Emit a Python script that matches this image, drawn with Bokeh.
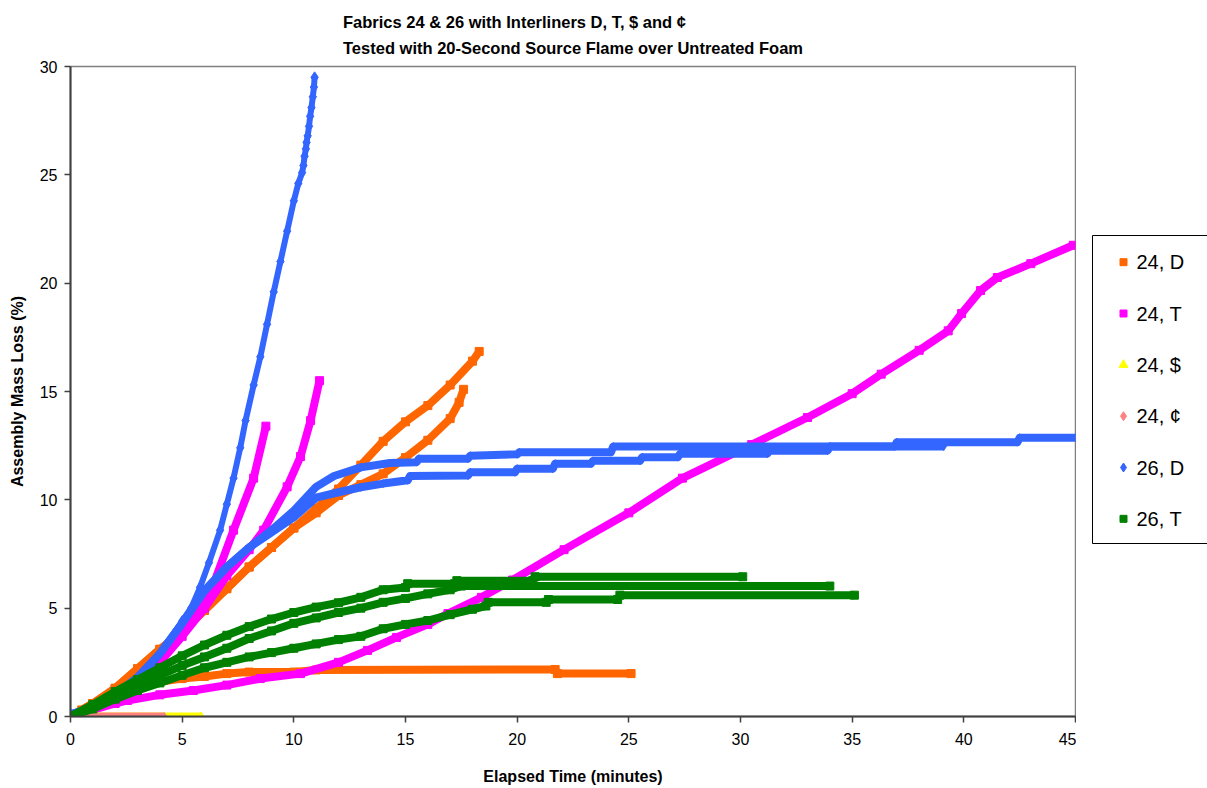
from bokeh.plotting import figure
from bokeh.models import FixedTicker, Title, Range1d, ColumnDataSource
from bokeh.layouts import row
from bokeh.core.properties import value
from bokeh.embed import file_html
from bokeh.resources import INLINE

# ---------------- data (elapsed time in minutes, assembly mass loss in %) ----------------
# 24, D  (three runs)
d24_1_t = [0, 0.5, 1, 2, 3, 4, 5, 6, 7, 8, 10, 11, 21.7, 21.8, 25.1]
d24_1_v = [0, 0.3, 0.6, 1.1, 1.4, 1.6, 1.75, 1.85, 1.98, 2.05, 2.05, 2.15, 2.17, 1.98, 1.98]
d24_2_t = [0, 1, 2, 3, 4, 5, 6, 7, 8, 9, 10, 11, 12, 13, 14, 15, 16, 17, 18, 18.3]
d24_2_v = [0, 0.6, 1.3, 2.2, 3.1, 3.9, 4.9, 5.9, 6.9, 7.8, 8.7, 9.6, 10.5, 11.6, 12.7, 13.6, 14.35, 15.3, 16.4, 16.85]
d24_3_t = [0, 1, 2, 3, 4, 5, 6, 7, 8, 9, 10, 11, 12, 13, 14, 15, 16, 17, 17.4, 17.6]
d24_3_v = [0, 0.6, 1.3, 2.2, 3.1, 3.9, 4.9, 5.9, 6.9, 7.8, 8.7, 9.4, 10.2, 10.7, 11.2, 11.95, 12.75, 13.75, 14.5, 15.1]

# 24, T  (three runs)
t24_1_t = [0, 1, 2, 2.55, 4, 5.5, 7, 8.5, 10.3, 12, 13.3, 14.6, 16, 16.9, 18.4, 19.8, 22.1, 25,
           27.4, 30.5, 33, 35, 36.3, 38, 39.3, 39.9, 40.75, 41.5, 43, 44.9]
t24_1_v = [0, 0.3, 0.6, 0.74, 1.0, 1.2, 1.45, 1.75, 1.98, 2.5, 3.05, 3.65, 4.25, 4.75, 5.5, 6.3, 7.7, 9.4,
           11.0, 12.55, 13.8, 14.9, 15.8, 16.9, 17.8, 18.6, 19.66, 20.26, 20.9, 21.75]
t24_2_t = [0, 1, 2, 3, 4, 5, 6, 6.4, 7.3, 8.2, 8.75]
t24_2_v = [0, 0.3, 0.8, 1.6, 2.6, 3.9, 5.3, 6.1, 8.6, 11.0, 13.4]
t24_3_t = [0, 1, 2, 3, 4, 5, 6, 7, 8, 8.65, 9.7, 10.3, 10.75, 11.15]
t24_3_v = [0, 0.3, 0.8, 1.5, 2.5, 3.7, 5.0, 6.5, 7.7, 8.6, 10.6, 12.0, 13.66, 15.5]

# 24, $
s24_t = [0, 5.85]
s24_v = [0, 0]

# 24, ¢
c24_t = [0, 4.2]
c24_v = [0, 0]

# 26, D  (three runs)
d26_1_t = [0, 1, 2, 3, 4, 5, 5.4, 5.8, 6.2, 6.7, 7.0, 7.3, 7.6, 7.84, 8.2, 8.5, 8.8, 9.1, 9.4, 9.7,
           10.0, 10.2, 10.37, 10.43, 10.48, 10.54, 10.57, 10.62, 10.68, 10.73, 10.79, 10.85, 10.9, 10.93]
d26_1_v = [0.1, 0.4, 1.0, 1.8, 2.9, 4.4, 5.0, 5.96, 7.1, 8.6, 9.8, 11.0, 12.4, 13.66, 15.3, 16.6, 18.1, 19.6, 21.0, 22.4,
           23.8, 24.6, 25.1, 25.43, 25.86, 26.2, 26.5, 26.8, 27.24, 27.7, 28.1, 28.6, 29.05, 29.5]
d26_2_t = [0, 1, 2, 3, 4, 5, 6, 7, 8, 9, 10, 11, 11.8, 13, 14.3, 15.5, 15.6, 17.8, 17.9, 20.0, 20.1,
           24.2, 24.3, 36.9, 37.0, 42.4, 42.5, 45]
d26_2_v = [0.1, 0.4, 1.0, 1.8, 2.9, 4.3, 5.8, 6.9, 7.8, 8.6, 9.5, 10.6, 11.1, 11.5, 11.7, 11.74, 11.9, 11.9, 12.04, 12.1, 12.2,
           12.2, 12.46, 12.46, 12.66, 12.66, 12.87, 12.87]
d26_3_t = [0, 1, 2, 3, 4, 5, 6, 7, 8, 9, 10, 11, 12, 13, 14, 15.1, 15.2, 17.8, 17.9, 19.9, 20.0, 21.6, 21.7,
           23.3, 23.4, 25.5, 25.6, 27.2, 27.3, 31.2, 31.3, 33.9, 34.0, 39.1]
d26_3_v = [0.1, 0.4, 1.0, 1.8, 2.9, 4.3, 5.8, 6.9, 7.8, 8.5, 9.2, 10.1, 10.35, 10.58, 10.75, 10.9, 11.1, 11.12, 11.27, 11.27,
           11.44, 11.44, 11.67, 11.67, 11.8, 11.8, 11.97, 11.97, 12.13, 12.13, 12.27, 12.27, 12.46, 12.46]

# 26, T  (three runs)
t26_1_t = [0, 1, 2, 3, 4, 5, 6, 7, 8, 9, 10, 11, 12, 13, 14, 15, 15.1, 17.2, 17.3, 20.7, 20.8, 30.1]
t26_1_v = [0, 0.55, 1.15, 1.7, 2.25, 2.8, 3.3, 3.75, 4.15, 4.5, 4.8, 5.05, 5.25, 5.5, 5.85, 5.95, 6.13, 6.13,
           6.27, 6.27, 6.45, 6.45]
t26_2_t = [0, 1, 2, 3, 4, 5, 6, 7, 8, 9, 10, 11, 12, 13, 14, 15, 16, 17, 17.5, 34.0]
t26_2_v = [0, 0.45, 0.95, 1.45, 1.9, 2.35, 2.75, 3.15, 3.6, 3.95, 4.3, 4.55, 4.8, 5.0, 5.27, 5.45, 5.66, 5.85, 6.02, 6.02]
t26_3_t = [0, 1, 2, 3, 4, 5, 6, 7, 8, 9, 10, 11, 12, 13, 14, 15, 16, 17, 18, 18.6, 18.7, 21.3, 21.4,
           24.5, 24.6, 35.1]
t26_3_v = [0, 0.35, 0.8, 1.2, 1.55, 1.9, 2.25, 2.5, 2.75, 2.95, 3.15, 3.35, 3.55, 3.7, 4.05, 4.25, 4.43, 4.7, 4.95,
           5.1, 5.27, 5.27, 5.4, 5.4, 5.6, 5.6]

series_names = ["24, D", "24, T", "24, $", "24, \u00a2", "26, D", "26, T"]
series_colors = ["#FF6600", "#FF00FF", "#FFFF00", "#FF8080", "#3366FF", "#008000"]
series_markers = ["square", "square", "triangle", "diamond", "diamond", "square"]
series_runs = [
    [(d24_1_t, d24_1_v), (d24_2_t, d24_2_v), (d24_3_t, d24_3_v)],
    [(t24_1_t, t24_1_v), (t24_2_t, t24_2_v), (t24_3_t, t24_3_v)],
    [(s24_t, s24_v)],
    [(c24_t, c24_v)],
    [(d26_2_t, d26_2_v), (d26_3_t, d26_3_v), (d26_1_t, d26_1_v)],
    [(t26_1_t, t26_1_v), (t26_2_t, t26_2_v), (t26_3_t, t26_3_v)],
]
x_ticks = [0, 5, 10, 15, 20, 25, 30, 35, 40, 45]
y_ticks = [0, 5, 10, 15, 20, 25, 30]
title_lines = ["Fabrics 24 & 26 with Interliners D, T, $ and \u00a2",
               "Tested with 20-Second Source Flame over Untreated Foam"]

FONT = "Liberation Sans"
TOP, BOTTOM, FRAME_H = 66, 72, 650

p = figure(frame_width=1005, frame_height=FRAME_H, x_range=(0, 45), y_range=(0, 30),
           output_backend="svg", toolbar_location=None,
           min_border_left=70, min_border_right=1, min_border_top=TOP, min_border_bottom=BOTTOM)
p.background_fill_color = "white"
p.border_fill_color = "white"
p.outline_line_color = "#808080"
p.outline_line_width = 1.5
p.xgrid.visible = False
p.ygrid.visible = False

p.add_layout(Title(text="\n".join(title_lines), align="center",
                   text_font=FONT, text_font_size="16.5px", text_font_style="bold",
                   text_color="black", text_line_height=1.47, standoff=18), "above")

for ax, ticks, label in ((p.xaxis[0], x_ticks, "Elapsed Time (minutes)"),
                         (p.yaxis[0], y_ticks, "Assembly Mass Loss (%)")):
    ax.ticker = FixedTicker(ticks=ticks, minor_ticks=[])
    ax.axis_label = label
    ax.axis_label_text_font = FONT
    ax.axis_label_text_font_size = "16px"
    ax.axis_label_text_font_style = "bold"
    ax.axis_label_text_color = "black"
    ax.major_label_text_font = FONT
    ax.major_label_text_font_size = "16px"
    ax.major_label_text_color = "black"
    ax.axis_line_color = "#404040"
    ax.axis_line_width = 2
    ax.major_tick_line_color = "#404040"
    ax.major_tick_line_width = 1.5
    ax.major_tick_out = 6
    ax.major_tick_in = 0
    ax.minor_tick_line_color = None
p.xaxis[0].major_label_standoff = 10
p.xaxis[0].axis_label_standoff = 20
p.yaxis[0].major_label_standoff = 7
p.yaxis[0].axis_label_standoff = 11

for name, color, marker, runs in zip(series_names, series_colors, series_markers, series_runs):
    for t, v in runs:
        fast = max(v) > 25
        p.line(t, v, line_color=color, line_width=6 if fast else 8, line_join="round", line_cap="butt")
        p.scatter(t, v, marker=marker, size=11 if fast else 8, fill_color=color, line_color=color)

# ---------------- legend panel (companion canvas; its frame is aligned with the chart frame,
# and its ranges are in page pixels so the legend box can sit beside the chart) ----------------
LW = 131
lg = figure(frame_width=LW, frame_height=FRAME_H, x_range=Range1d(0, LW),
            y_range=Range1d(TOP + FRAME_H, TOP),
            output_backend="svg", toolbar_location=None, x_axis_type=None, y_axis_type=None,
            min_border_left=0, min_border_right=0, min_border_top=TOP, min_border_bottom=BOTTOM)
lg.outline_line_color = None
lg.xgrid.visible = False
lg.ygrid.visible = False
lg.background_fill_color = "white"
lg.border_fill_color = "white"

box_left, box_top, box_bottom = 16, 235, 543
row_gap = (box_bottom - box_top) / len(series_names)
lg.quad(left=[box_left], right=[LW + 20], top=[box_top], bottom=[box_bottom],
        fill_color="white", line_color="black", line_width=1)
ys = [box_top + row_gap * (i + 0.5) + 1 for i in range(len(series_names))]
marker_sizes = [7 if m == "square" else 9 for m in series_markers]
src = ColumnDataSource(dict(x=[box_left + 31] * len(ys), y=ys, marker=series_markers,
                            color=series_colors, size=marker_sizes, name=series_names,
                            tx=[box_left + 44] * len(ys)))
lg.scatter(x="x", y="y", marker="marker", size="size", fill_color="color", line_color="color", source=src)
lg.text(x="tx", y="y", text="name", source=src, text_baseline="middle", text_align="left",
        text_font=value(FONT), text_font_size=value("20px"), text_color="black")

layout = row(p, lg, spacing=0)
open("out.html", "w").write(file_html(layout, INLINE))
